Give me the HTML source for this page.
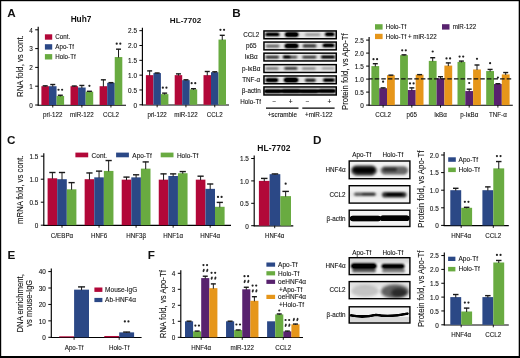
<!DOCTYPE html>
<html><head><meta charset="utf-8"><style>
html,body{margin:0;padding:0;background:#fff;}
body{width:520px;height:358px;overflow:hidden;}
svg{display:block;font-family:"Liberation Sans", sans-serif;will-change:transform;}
</style></head><body>
<svg width="520" height="358" viewBox="0 0 520 358">
<defs><filter id="bl0_6" x="-20%" y="-50%" width="140%" height="200%"><feGaussianBlur stdDeviation="0.6"/><feComponentTransfer><feFuncA type="linear" slope="1.35"/></feComponentTransfer></filter><filter id="bl0_8" x="-20%" y="-50%" width="140%" height="200%"><feGaussianBlur stdDeviation="0.8"/><feComponentTransfer><feFuncA type="linear" slope="1.35"/></feComponentTransfer></filter><filter id="bl0_9" x="-20%" y="-50%" width="140%" height="200%"><feGaussianBlur stdDeviation="0.9"/><feComponentTransfer><feFuncA type="linear" slope="1.35"/></feComponentTransfer></filter><filter id="bl1_2" x="-20%" y="-50%" width="140%" height="200%"><feGaussianBlur stdDeviation="1.2"/><feComponentTransfer><feFuncA type="linear" slope="1.35"/></feComponentTransfer></filter><filter id="bl1_6" x="-20%" y="-50%" width="140%" height="200%"><feGaussianBlur stdDeviation="1.6"/><feComponentTransfer><feFuncA type="linear" slope="1.35"/></feComponentTransfer></filter></defs>
<rect x="0" y="0" width="520" height="358" fill="#fff"/>
<text x="7.20" y="16.80" font-size="11.70" text-anchor="start" font-weight="bold" fill="#111">A</text>
<text x="81.00" y="22.00" font-size="8.30" text-anchor="middle" font-weight="bold" fill="#111">Huh7</text>
<text x="23.30" y="66.10" font-size="8.90" text-anchor="middle" font-weight="normal" fill="#111" transform="rotate(-90 23.30 66.10)" textLength="61.6" lengthAdjust="spacingAndGlyphs" stroke="#111" stroke-width="0.1">RNA fold, vs cont.</text>
<line x1="38.20" y1="26.80" x2="38.20" y2="105.50" stroke="#000" stroke-width="1.15"/>
<line x1="35.20" y1="105.00" x2="38.20" y2="105.00" stroke="#000" stroke-width="1.0"/>
<text x="32.80" y="107.80" font-size="6.40" text-anchor="end" font-weight="normal" fill="#111" stroke="#111" stroke-width="0.1">0</text>
<line x1="35.20" y1="86.20" x2="38.20" y2="86.20" stroke="#000" stroke-width="1.0"/>
<text x="32.80" y="89.00" font-size="6.40" text-anchor="end" font-weight="normal" fill="#111" stroke="#111" stroke-width="0.1">1</text>
<line x1="35.20" y1="67.40" x2="38.20" y2="67.40" stroke="#000" stroke-width="1.0"/>
<text x="32.80" y="70.20" font-size="6.40" text-anchor="end" font-weight="normal" fill="#111" stroke="#111" stroke-width="0.1">2</text>
<line x1="35.20" y1="48.60" x2="38.20" y2="48.60" stroke="#000" stroke-width="1.0"/>
<text x="32.80" y="51.40" font-size="6.40" text-anchor="end" font-weight="normal" fill="#111" stroke="#111" stroke-width="0.1">3</text>
<line x1="35.20" y1="29.80" x2="38.20" y2="29.80" stroke="#000" stroke-width="1.0"/>
<text x="32.80" y="32.60" font-size="6.40" text-anchor="end" font-weight="normal" fill="#111" stroke="#111" stroke-width="0.1">4</text>
<line x1="37.70" y1="105.20" x2="126.00" y2="105.20" stroke="#000" stroke-width="1.1"/>
<rect x="41.40" y="86.20" width="7.57" height="18.80" fill="#b20839"/>
<line x1="45.19" y1="85.64" x2="45.19" y2="86.70" stroke="#1a1a1a" stroke-width="1.0"/>
<line x1="42.69" y1="85.84" x2="47.69" y2="85.84" stroke="#1a1a1a" stroke-width="1.4"/>
<rect x="48.97" y="86.20" width="7.57" height="18.80" fill="#2b4886"/>
<line x1="52.75" y1="84.32" x2="52.75" y2="86.70" stroke="#1a1a1a" stroke-width="1.0"/>
<line x1="50.25" y1="84.52" x2="55.25" y2="84.52" stroke="#1a1a1a" stroke-width="1.4"/>
<rect x="56.54" y="95.98" width="7.57" height="9.02" fill="#69ab41"/>
<line x1="60.33" y1="95.04" x2="60.33" y2="96.48" stroke="#1a1a1a" stroke-width="1.0"/>
<line x1="57.83" y1="95.24" x2="62.83" y2="95.24" stroke="#1a1a1a" stroke-width="1.4"/>
<circle cx="58.53" cy="89.74" r="1.1" fill="#222"/>
<circle cx="62.12" cy="89.74" r="1.1" fill="#222"/>
<line x1="52.75" y1="105.00" x2="52.75" y2="107.50" stroke="#000" stroke-width="0.9"/>
<text x="52.75" y="117.50" font-size="6.70" text-anchor="middle" font-weight="normal" fill="#111" transform="translate(52.75 117.50) scale(0.93 1) translate(-52.75 -117.50)" stroke="#111" stroke-width="0.1">pri-122</text>
<rect x="70.50" y="86.20" width="7.57" height="18.80" fill="#b20839"/>
<line x1="74.28" y1="85.82" x2="74.28" y2="86.70" stroke="#1a1a1a" stroke-width="1.0"/>
<line x1="71.78" y1="86.02" x2="76.78" y2="86.02" stroke="#1a1a1a" stroke-width="1.4"/>
<rect x="78.07" y="87.52" width="7.57" height="17.48" fill="#2b4886"/>
<line x1="81.85" y1="85.26" x2="81.85" y2="88.02" stroke="#1a1a1a" stroke-width="1.0"/>
<line x1="79.35" y1="85.46" x2="84.35" y2="85.46" stroke="#1a1a1a" stroke-width="1.4"/>
<rect x="85.64" y="91.65" width="7.57" height="13.35" fill="#69ab41"/>
<line x1="89.42" y1="91.09" x2="89.42" y2="92.15" stroke="#1a1a1a" stroke-width="1.0"/>
<line x1="86.92" y1="91.29" x2="91.92" y2="91.29" stroke="#1a1a1a" stroke-width="1.4"/>
<circle cx="89.42" cy="85.79" r="1.1" fill="#222"/>
<line x1="81.86" y1="105.00" x2="81.86" y2="107.50" stroke="#000" stroke-width="0.9"/>
<text x="81.86" y="117.50" font-size="6.70" text-anchor="middle" font-weight="normal" fill="#111" transform="translate(81.86 117.50) scale(0.93 1) translate(-81.86 -117.50)" stroke="#111" stroke-width="0.1">miR-122</text>
<rect x="99.60" y="86.20" width="7.57" height="18.80" fill="#b20839"/>
<line x1="103.38" y1="79.62" x2="103.38" y2="86.70" stroke="#1a1a1a" stroke-width="1.0"/>
<line x1="100.88" y1="79.82" x2="105.88" y2="79.82" stroke="#1a1a1a" stroke-width="1.4"/>
<rect x="107.17" y="82.82" width="7.57" height="22.18" fill="#2b4886"/>
<line x1="110.95" y1="82.44" x2="110.95" y2="83.32" stroke="#1a1a1a" stroke-width="1.0"/>
<line x1="108.45" y1="82.64" x2="113.45" y2="82.64" stroke="#1a1a1a" stroke-width="1.4"/>
<rect x="114.74" y="57.06" width="7.57" height="47.94" fill="#69ab41"/>
<line x1="118.52" y1="48.98" x2="118.52" y2="57.56" stroke="#1a1a1a" stroke-width="1.0"/>
<line x1="116.02" y1="49.18" x2="121.02" y2="49.18" stroke="#1a1a1a" stroke-width="1.4"/>
<circle cx="116.72" cy="43.68" r="1.1" fill="#222"/>
<circle cx="120.32" cy="43.68" r="1.1" fill="#222"/>
<line x1="110.95" y1="105.00" x2="110.95" y2="107.50" stroke="#000" stroke-width="0.9"/>
<text x="110.95" y="117.50" font-size="6.70" text-anchor="middle" font-weight="normal" fill="#111" transform="translate(110.95 117.50) scale(0.93 1) translate(-110.95 -117.50)" stroke="#111" stroke-width="0.1">CCL2</text>
<rect x="44.90" y="34.30" width="7.30" height="5.40" fill="#b20839"/>
<text x="55.30" y="38.90" font-size="6.70" text-anchor="start" font-weight="normal" fill="#111" transform="translate(55.30 38.90) scale(0.93 1) translate(-55.30 -38.90)" stroke="#111" stroke-width="0.1">Cont.</text>
<rect x="44.90" y="44.20" width="7.30" height="5.40" fill="#2b4886"/>
<text x="55.30" y="48.80" font-size="6.70" text-anchor="start" font-weight="normal" fill="#111" transform="translate(55.30 48.80) scale(0.93 1) translate(-55.30 -48.80)" stroke="#111" stroke-width="0.1">Apo-Tf</text>
<rect x="44.90" y="54.10" width="7.30" height="5.40" fill="#69ab41"/>
<text x="55.30" y="58.70" font-size="6.70" text-anchor="start" font-weight="normal" fill="#111" transform="translate(55.30 58.70) scale(0.93 1) translate(-55.30 -58.70)" stroke="#111" stroke-width="0.1">Holo-Tf</text>
<text x="185.60" y="22.70" font-size="8.10" text-anchor="middle" font-weight="bold" fill="#111">HL-7702</text>
<line x1="142.40" y1="27.67" x2="142.40" y2="105.30" stroke="#000" stroke-width="1.15"/>
<line x1="139.40" y1="104.80" x2="142.40" y2="104.80" stroke="#000" stroke-width="1.0"/>
<text x="137.00" y="107.60" font-size="6.40" text-anchor="end" font-weight="normal" fill="#111" stroke="#111" stroke-width="0.1">0</text>
<line x1="139.40" y1="89.97" x2="142.40" y2="89.97" stroke="#000" stroke-width="1.0"/>
<text x="137.00" y="92.78" font-size="6.40" text-anchor="end" font-weight="normal" fill="#111" stroke="#111" stroke-width="0.1">0.5</text>
<line x1="139.40" y1="75.15" x2="142.40" y2="75.15" stroke="#000" stroke-width="1.0"/>
<text x="137.00" y="77.95" font-size="6.40" text-anchor="end" font-weight="normal" fill="#111" stroke="#111" stroke-width="0.1">1.0</text>
<line x1="139.40" y1="60.33" x2="142.40" y2="60.33" stroke="#000" stroke-width="1.0"/>
<text x="137.00" y="63.13" font-size="6.40" text-anchor="end" font-weight="normal" fill="#111" stroke="#111" stroke-width="0.1">1.5</text>
<line x1="139.40" y1="45.50" x2="142.40" y2="45.50" stroke="#000" stroke-width="1.0"/>
<text x="137.00" y="48.30" font-size="6.40" text-anchor="end" font-weight="normal" fill="#111" stroke="#111" stroke-width="0.1">2.0</text>
<line x1="139.40" y1="30.67" x2="142.40" y2="30.67" stroke="#000" stroke-width="1.0"/>
<text x="137.00" y="33.48" font-size="6.40" text-anchor="end" font-weight="normal" fill="#111" stroke="#111" stroke-width="0.1">2.5</text>
<line x1="141.90" y1="105.00" x2="229.00" y2="105.00" stroke="#000" stroke-width="1.1"/>
<rect x="145.90" y="75.15" width="7.50" height="29.65" fill="#b20839"/>
<line x1="149.65" y1="70.70" x2="149.65" y2="75.65" stroke="#1a1a1a" stroke-width="1.0"/>
<line x1="147.15" y1="70.90" x2="152.15" y2="70.90" stroke="#1a1a1a" stroke-width="1.4"/>
<rect x="153.40" y="73.07" width="7.50" height="31.73" fill="#2b4886"/>
<line x1="157.15" y1="72.78" x2="157.15" y2="73.57" stroke="#1a1a1a" stroke-width="1.0"/>
<line x1="154.65" y1="72.98" x2="159.65" y2="72.98" stroke="#1a1a1a" stroke-width="1.4"/>
<rect x="160.90" y="94.13" width="7.50" height="10.67" fill="#69ab41"/>
<line x1="164.65" y1="92.94" x2="164.65" y2="94.63" stroke="#1a1a1a" stroke-width="1.0"/>
<line x1="162.15" y1="93.14" x2="167.15" y2="93.14" stroke="#1a1a1a" stroke-width="1.4"/>
<circle cx="162.85" cy="87.64" r="1.1" fill="#222"/>
<circle cx="166.45" cy="87.64" r="1.1" fill="#222"/>
<line x1="157.15" y1="104.80" x2="157.15" y2="107.30" stroke="#000" stroke-width="0.9"/>
<text x="157.15" y="117.50" font-size="6.70" text-anchor="middle" font-weight="normal" fill="#111" transform="translate(157.15 117.50) scale(0.93 1) translate(-157.15 -117.50)" stroke="#111" stroke-width="0.1">pri-122</text>
<rect x="174.70" y="75.15" width="7.50" height="29.65" fill="#b20839"/>
<line x1="178.45" y1="73.67" x2="178.45" y2="75.65" stroke="#1a1a1a" stroke-width="1.0"/>
<line x1="175.95" y1="73.87" x2="180.95" y2="73.87" stroke="#1a1a1a" stroke-width="1.4"/>
<rect x="182.20" y="80.19" width="7.50" height="24.61" fill="#2b4886"/>
<line x1="185.95" y1="79.60" x2="185.95" y2="80.69" stroke="#1a1a1a" stroke-width="1.0"/>
<line x1="183.45" y1="79.80" x2="188.45" y2="79.80" stroke="#1a1a1a" stroke-width="1.4"/>
<rect x="189.70" y="89.38" width="7.50" height="15.42" fill="#69ab41"/>
<line x1="193.45" y1="88.49" x2="193.45" y2="89.88" stroke="#1a1a1a" stroke-width="1.0"/>
<line x1="190.95" y1="88.69" x2="195.95" y2="88.69" stroke="#1a1a1a" stroke-width="1.4"/>
<circle cx="191.65" cy="83.19" r="1.1" fill="#222"/>
<circle cx="195.25" cy="83.19" r="1.1" fill="#222"/>
<line x1="185.95" y1="104.80" x2="185.95" y2="107.30" stroke="#000" stroke-width="0.9"/>
<text x="185.95" y="117.50" font-size="6.70" text-anchor="middle" font-weight="normal" fill="#111" transform="translate(185.95 117.50) scale(0.93 1) translate(-185.95 -117.50)" stroke="#111" stroke-width="0.1">miR-122</text>
<rect x="203.50" y="75.15" width="7.50" height="29.65" fill="#b20839"/>
<line x1="207.25" y1="71.30" x2="207.25" y2="75.65" stroke="#1a1a1a" stroke-width="1.0"/>
<line x1="204.75" y1="71.50" x2="209.75" y2="71.50" stroke="#1a1a1a" stroke-width="1.4"/>
<rect x="211.00" y="72.19" width="7.50" height="32.61" fill="#2b4886"/>
<line x1="214.75" y1="71.59" x2="214.75" y2="72.69" stroke="#1a1a1a" stroke-width="1.0"/>
<line x1="212.25" y1="71.79" x2="217.25" y2="71.79" stroke="#1a1a1a" stroke-width="1.4"/>
<rect x="218.50" y="39.57" width="7.50" height="65.23" fill="#69ab41"/>
<line x1="222.25" y1="35.12" x2="222.25" y2="40.07" stroke="#1a1a1a" stroke-width="1.0"/>
<line x1="219.75" y1="35.32" x2="224.75" y2="35.32" stroke="#1a1a1a" stroke-width="1.4"/>
<circle cx="220.45" cy="29.82" r="1.1" fill="#222"/>
<circle cx="224.05" cy="29.82" r="1.1" fill="#222"/>
<line x1="214.75" y1="104.80" x2="214.75" y2="107.30" stroke="#000" stroke-width="0.9"/>
<text x="214.75" y="117.50" font-size="6.70" text-anchor="middle" font-weight="normal" fill="#111" transform="translate(214.75 117.50) scale(0.93 1) translate(-214.75 -117.50)" stroke="#111" stroke-width="0.1">CCL2</text>
<text x="232.30" y="16.80" font-size="11.70" text-anchor="start" font-weight="bold" fill="#111">B</text>
<clipPath id="c1"><rect x="263.20" y="30.20" width="73.80" height="9.30"/></clipPath>
<g clip-path="url(#c1)"><rect x="263.20" y="30.20" width="73.80" height="9.30" fill="#f3f3f3"/>
<g filter="url(#bl0_8)">
<rect x="263.20" y="32.35" width="73.80" height="5" fill="#000" fill-opacity="0.06"/>
<rect x="265.30" y="32.71" width="14.20" height="3.38" rx="1.69" ry="1.69" fill="#000" fill-opacity="0.9"/>
<rect x="285.00" y="32.29" width="13.40" height="4.42" rx="2.21" ry="2.21" fill="#000" fill-opacity="1.0"/>
<rect x="305.00" y="33.30" width="15.30" height="2.60" rx="1.30" ry="1.30" fill="#000" fill-opacity="0.25"/>
<rect x="325.00" y="32.45" width="9.50" height="3.51" rx="1.76" ry="1.76" fill="#000" fill-opacity="0.95"/>
</g></g>
<rect x="263.95" y="30.95" width="72.30" height="7.80" fill="none" stroke="#000" stroke-width="1.5"/>
<text x="251.20" y="37.10" font-size="6.80" text-anchor="middle" font-weight="normal" fill="#111" transform="translate(251.20 37.10) scale(0.93 1) translate(-251.20 -37.10)" stroke="#111" stroke-width="0.1">CCL2</text>
<clipPath id="c2"><rect x="263.20" y="41.30" width="73.80" height="9.30"/></clipPath>
<g clip-path="url(#c2)"><rect x="263.20" y="41.30" width="73.80" height="9.30" fill="#f3f3f3"/>
<g filter="url(#bl0_8)">
<rect x="263.20" y="43.45" width="73.80" height="5" fill="#000" fill-opacity="0.06"/>
<rect x="265.80" y="44.67" width="13.70" height="2.86" rx="1.43" ry="1.43" fill="#000" fill-opacity="0.45"/>
<rect x="284.70" y="43.69" width="13.70" height="4.42" rx="2.21" ry="2.21" fill="#000" fill-opacity="1.0"/>
<rect x="302.60" y="44.27" width="13.90" height="3.25" rx="1.62" ry="1.62" fill="#000" fill-opacity="0.6"/>
<rect x="322.60" y="43.71" width="11.90" height="3.38" rx="1.69" ry="1.69" fill="#000" fill-opacity="0.95"/>
</g></g>
<rect x="263.95" y="42.05" width="72.30" height="7.80" fill="none" stroke="#000" stroke-width="1.5"/>
<text x="251.20" y="48.20" font-size="6.80" text-anchor="middle" font-weight="normal" fill="#111" transform="translate(251.20 48.20) scale(0.93 1) translate(-251.20 -48.20)" stroke="#111" stroke-width="0.1">p65</text>
<clipPath id="c3"><rect x="263.20" y="52.40" width="73.80" height="9.30"/></clipPath>
<g clip-path="url(#c3)"><rect x="263.20" y="52.40" width="73.80" height="9.30" fill="#f3f3f3"/>
<g filter="url(#bl0_8)">
<rect x="263.20" y="54.55" width="73.80" height="5" fill="#000" fill-opacity="0.06"/>
<rect x="265.50" y="55.93" width="13.50" height="2.34" rx="1.17" ry="1.17" fill="#000" fill-opacity="0.75"/>
<rect x="282.80" y="55.70" width="7.70" height="2.60" rx="1.30" ry="1.30" fill="#000" fill-opacity="1.0"/>
<rect x="288.00" y="56.00" width="9.40" height="2.21" rx="1.10" ry="1.10" fill="#000" fill-opacity="0.6"/>
<rect x="302.20" y="56.00" width="14.30" height="2.21" rx="1.10" ry="1.10" fill="#000" fill-opacity="0.7"/>
<rect x="321.00" y="55.70" width="14.00" height="2.60" rx="1.30" ry="1.30" fill="#000" fill-opacity="0.95"/>
</g></g>
<rect x="263.95" y="53.15" width="72.30" height="7.80" fill="none" stroke="#000" stroke-width="1.5"/>
<text x="251.20" y="59.30" font-size="6.80" text-anchor="middle" font-weight="normal" fill="#111" transform="translate(251.20 59.30) scale(0.93 1) translate(-251.20 -59.30)" stroke="#111" stroke-width="0.1">I&#954;B&#945;</text>
<clipPath id="c4"><rect x="263.20" y="63.90" width="73.80" height="9.30"/></clipPath>
<g clip-path="url(#c4)"><rect x="263.20" y="63.90" width="73.80" height="9.30" fill="#f3f3f3"/>
<g filter="url(#bl0_8)">
<rect x="263.20" y="66.05" width="73.80" height="5" fill="#000" fill-opacity="0.06"/>
<rect x="265.50" y="67.66" width="13.00" height="1.69" rx="0.85" ry="0.85" fill="#000" fill-opacity="0.6"/>
<rect x="284.30" y="67.49" width="13.10" height="1.82" rx="0.91" ry="0.91" fill="#000" fill-opacity="0.9"/>
<rect x="302.00" y="67.78" width="13.70" height="1.43" rx="0.72" ry="0.72" fill="#000" fill-opacity="0.5"/>
<rect x="321.80" y="67.69" width="12.40" height="1.43" rx="0.72" ry="0.72" fill="#000" fill-opacity="0.4"/>
</g></g>
<rect x="263.95" y="64.65" width="72.30" height="7.80" fill="none" stroke="#000" stroke-width="1.5"/>
<text x="251.20" y="70.80" font-size="6.80" text-anchor="middle" font-weight="normal" fill="#111" transform="translate(251.20 70.80) scale(0.93 1) translate(-251.20 -70.80)" stroke="#111" stroke-width="0.1">p-I&#954;B&#945;</text>
<clipPath id="c5"><rect x="263.20" y="75.20" width="73.80" height="9.30"/></clipPath>
<g clip-path="url(#c5)"><rect x="263.20" y="75.20" width="73.80" height="9.30" fill="#f3f3f3"/>
<g filter="url(#bl0_8)">
<rect x="263.20" y="77.35" width="73.80" height="5" fill="#000" fill-opacity="0.06"/>
<rect x="265.50" y="78.15" width="12.70" height="3.90" rx="1.95" ry="1.95" fill="#000" fill-opacity="0.95"/>
<rect x="283.90" y="77.72" width="14.30" height="4.55" rx="2.27" ry="2.27" fill="#000" fill-opacity="1.0"/>
<rect x="305.00" y="78.70" width="10.70" height="2.99" rx="1.49" ry="1.49" fill="#000" fill-opacity="0.75"/>
<rect x="323.00" y="78.38" width="11.90" height="3.25" rx="1.62" ry="1.62" fill="#000" fill-opacity="0.9"/>
</g></g>
<rect x="263.95" y="75.95" width="72.30" height="7.80" fill="none" stroke="#000" stroke-width="1.5"/>
<text x="251.20" y="82.10" font-size="6.80" text-anchor="middle" font-weight="normal" fill="#111" transform="translate(251.20 82.10) scale(0.93 1) translate(-251.20 -82.10)" stroke="#111" stroke-width="0.1">TNF-&#945;</text>
<clipPath id="c6"><rect x="263.20" y="86.20" width="73.80" height="9.50"/></clipPath>
<g clip-path="url(#c6)"><rect x="263.20" y="86.20" width="73.80" height="9.50" fill="#f3f3f3"/>
<g filter="url(#bl0_8)">
<rect x="264.00" y="89.45" width="18.00" height="3.51" rx="1.76" ry="1.76" fill="#000" fill-opacity="1.0"/>
<rect x="281.00" y="89.21" width="20.00" height="3.77" rx="1.89" ry="1.89" fill="#000" fill-opacity="1.0"/>
<rect x="299.50" y="89.45" width="19.50" height="3.51" rx="1.76" ry="1.76" fill="#000" fill-opacity="1.0"/>
<rect x="318.00" y="89.34" width="18.00" height="3.51" rx="1.76" ry="1.76" fill="#000" fill-opacity="1.0"/>
</g></g>
<rect x="263.95" y="86.95" width="72.30" height="8.00" fill="none" stroke="#000" stroke-width="1.5"/>
<text x="251.20" y="93.10" font-size="6.80" text-anchor="middle" font-weight="normal" fill="#111" transform="translate(251.20 93.10) scale(0.93 1) translate(-251.20 -93.10)" stroke="#111" stroke-width="0.1">&#946;-actin</text>
<text x="261.00" y="104.00" font-size="6.80" text-anchor="end" font-weight="normal" fill="#111" transform="translate(261.00 104.00) scale(0.93 1) translate(-261.00 -104.00)" stroke="#111" stroke-width="0.1">Holo-Tf</text>
<text x="274.40" y="104.00" font-size="6.80" text-anchor="middle" font-weight="normal" fill="#111" transform="translate(274.40 104.00) scale(0.93 1) translate(-274.40 -104.00)" stroke="#111" stroke-width="0.1">&#8722;</text>
<text x="290.60" y="104.00" font-size="6.60" text-anchor="middle" font-weight="normal" fill="#111" stroke="#111" stroke-width="0.1">+</text>
<text x="307.60" y="104.00" font-size="6.80" text-anchor="middle" font-weight="normal" fill="#111" transform="translate(307.60 104.00) scale(0.93 1) translate(-307.60 -104.00)" stroke="#111" stroke-width="0.1">&#8722;</text>
<text x="329.40" y="104.00" font-size="6.60" text-anchor="middle" font-weight="normal" fill="#111" stroke="#111" stroke-width="0.1">+</text>
<line x1="266.00" y1="108.20" x2="298.50" y2="108.20" stroke="#000" stroke-width="1.3"/>
<line x1="302.30" y1="108.20" x2="334.60" y2="108.20" stroke="#000" stroke-width="1.3"/>
<text x="282.30" y="117.20" font-size="6.80" text-anchor="middle" font-weight="normal" fill="#111" transform="translate(282.30 117.20) scale(0.93 1) translate(-282.30 -117.20)" stroke="#111" stroke-width="0.1">+scramble</text>
<text x="318.80" y="117.20" font-size="6.80" text-anchor="middle" font-weight="normal" fill="#111" transform="translate(318.80 117.20) scale(0.93 1) translate(-318.80 -117.20)" stroke="#111" stroke-width="0.1">+miR-122</text>
<text x="347.90" y="71.65" font-size="8.80" text-anchor="middle" font-weight="normal" fill="#111" transform="rotate(-90 347.90 71.65)" textLength="76.6" lengthAdjust="spacingAndGlyphs" stroke="#111" stroke-width="0.1">Protein fold, vs Apo-Tf</text>
<line x1="369.10" y1="37.10" x2="369.10" y2="105.60" stroke="#000" stroke-width="1.15"/>
<line x1="366.10" y1="105.10" x2="369.10" y2="105.10" stroke="#000" stroke-width="1.0"/>
<text x="363.70" y="107.90" font-size="6.40" text-anchor="end" font-weight="normal" fill="#111" stroke="#111" stroke-width="0.1">0</text>
<line x1="366.10" y1="92.10" x2="369.10" y2="92.10" stroke="#000" stroke-width="1.0"/>
<text x="363.70" y="94.90" font-size="6.40" text-anchor="end" font-weight="normal" fill="#111" stroke="#111" stroke-width="0.1">0.5</text>
<line x1="366.10" y1="79.10" x2="369.10" y2="79.10" stroke="#000" stroke-width="1.0"/>
<text x="363.70" y="81.90" font-size="6.40" text-anchor="end" font-weight="normal" fill="#111" stroke="#111" stroke-width="0.1">1.0</text>
<line x1="366.10" y1="66.10" x2="369.10" y2="66.10" stroke="#000" stroke-width="1.0"/>
<text x="363.70" y="68.90" font-size="6.40" text-anchor="end" font-weight="normal" fill="#111" stroke="#111" stroke-width="0.1">1.5</text>
<line x1="366.10" y1="53.10" x2="369.10" y2="53.10" stroke="#000" stroke-width="1.0"/>
<text x="363.70" y="55.90" font-size="6.40" text-anchor="end" font-weight="normal" fill="#111" stroke="#111" stroke-width="0.1">2.0</text>
<line x1="366.10" y1="40.10" x2="369.10" y2="40.10" stroke="#000" stroke-width="1.0"/>
<text x="363.70" y="42.90" font-size="6.40" text-anchor="end" font-weight="normal" fill="#111" stroke="#111" stroke-width="0.1">2.5</text>
<line x1="368.60" y1="105.30" x2="512.80" y2="105.30" stroke="#000" stroke-width="1.1"/>
<rect x="371.40" y="66.10" width="7.80" height="39.00" fill="#69ab41"/>
<line x1="375.30" y1="63.50" x2="375.30" y2="66.60" stroke="#1a1a1a" stroke-width="1.0"/>
<line x1="372.80" y1="63.70" x2="377.80" y2="63.70" stroke="#1a1a1a" stroke-width="1.4"/>
<circle cx="373.50" cy="59.20" r="1.1" fill="#222"/>
<circle cx="377.10" cy="59.20" r="1.1" fill="#222"/>
<rect x="379.20" y="88.20" width="7.80" height="16.90" fill="#58226e"/>
<line x1="383.10" y1="87.68" x2="383.10" y2="88.70" stroke="#1a1a1a" stroke-width="1.0"/>
<line x1="380.60" y1="87.88" x2="385.60" y2="87.88" stroke="#1a1a1a" stroke-width="1.4"/>
<circle cx="383.10" cy="81.68" r="1.1" fill="#222"/>
<rect x="387.00" y="75.20" width="7.80" height="29.90" fill="#e6961a"/>
<line x1="390.90" y1="74.94" x2="390.90" y2="75.70" stroke="#1a1a1a" stroke-width="1.0"/>
<line x1="388.40" y1="75.14" x2="393.40" y2="75.14" stroke="#1a1a1a" stroke-width="1.4"/>
<line x1="383.10" y1="105.10" x2="383.10" y2="107.60" stroke="#000" stroke-width="0.9"/>
<text x="383.10" y="117.50" font-size="6.70" text-anchor="middle" font-weight="normal" fill="#111" transform="translate(383.10 117.50) scale(0.93 1) translate(-383.10 -117.50)" stroke="#111" stroke-width="0.1">CCL2</text>
<rect x="400.10" y="55.18" width="7.80" height="49.92" fill="#69ab41"/>
<line x1="404.00" y1="54.66" x2="404.00" y2="55.68" stroke="#1a1a1a" stroke-width="1.0"/>
<line x1="401.50" y1="54.86" x2="406.50" y2="54.86" stroke="#1a1a1a" stroke-width="1.4"/>
<circle cx="402.20" cy="50.36" r="1.1" fill="#222"/>
<circle cx="405.80" cy="50.36" r="1.1" fill="#222"/>
<rect x="407.90" y="90.02" width="7.80" height="15.08" fill="#58226e"/>
<line x1="411.80" y1="87.68" x2="411.80" y2="90.52" stroke="#1a1a1a" stroke-width="1.0"/>
<line x1="409.30" y1="87.88" x2="414.30" y2="87.88" stroke="#1a1a1a" stroke-width="1.4"/>
<circle cx="410.00" cy="83.38" r="1.1" fill="#222"/>
<circle cx="413.60" cy="83.38" r="1.1" fill="#222"/>
<rect x="415.70" y="74.68" width="7.80" height="30.42" fill="#e6961a"/>
<line x1="419.60" y1="74.42" x2="419.60" y2="75.18" stroke="#1a1a1a" stroke-width="1.0"/>
<line x1="417.10" y1="74.62" x2="422.10" y2="74.62" stroke="#1a1a1a" stroke-width="1.4"/>
<line x1="411.80" y1="105.10" x2="411.80" y2="107.60" stroke="#000" stroke-width="0.9"/>
<text x="411.80" y="117.50" font-size="6.70" text-anchor="middle" font-weight="normal" fill="#111" transform="translate(411.80 117.50) scale(0.93 1) translate(-411.80 -117.50)" stroke="#111" stroke-width="0.1">p65</text>
<rect x="428.80" y="60.90" width="7.80" height="44.20" fill="#69ab41"/>
<line x1="432.70" y1="57.52" x2="432.70" y2="61.40" stroke="#1a1a1a" stroke-width="1.0"/>
<line x1="430.20" y1="57.72" x2="435.20" y2="57.72" stroke="#1a1a1a" stroke-width="1.4"/>
<circle cx="432.70" cy="51.52" r="1.1" fill="#222"/>
<rect x="436.60" y="78.32" width="7.80" height="26.78" fill="#58226e"/>
<line x1="440.50" y1="76.50" x2="440.50" y2="78.82" stroke="#1a1a1a" stroke-width="1.0"/>
<line x1="438.00" y1="76.70" x2="443.00" y2="76.70" stroke="#1a1a1a" stroke-width="1.4"/>
<rect x="444.40" y="65.58" width="7.80" height="39.52" fill="#e6961a"/>
<line x1="448.30" y1="62.72" x2="448.30" y2="66.08" stroke="#1a1a1a" stroke-width="1.0"/>
<line x1="445.80" y1="62.92" x2="450.80" y2="62.92" stroke="#1a1a1a" stroke-width="1.4"/>
<circle cx="446.50" cy="58.42" r="1.1" fill="#222"/>
<circle cx="450.10" cy="58.42" r="1.1" fill="#222"/>
<line x1="440.50" y1="105.10" x2="440.50" y2="107.60" stroke="#000" stroke-width="0.9"/>
<text x="440.50" y="117.50" font-size="6.70" text-anchor="middle" font-weight="normal" fill="#111" transform="translate(440.50 117.50) scale(0.93 1) translate(-440.50 -117.50)" stroke="#111" stroke-width="0.1">I&#954;B&#945;</text>
<rect x="457.50" y="61.94" width="7.80" height="43.16" fill="#69ab41"/>
<line x1="461.40" y1="60.90" x2="461.40" y2="62.44" stroke="#1a1a1a" stroke-width="1.0"/>
<line x1="458.90" y1="61.10" x2="463.90" y2="61.10" stroke="#1a1a1a" stroke-width="1.4"/>
<circle cx="459.60" cy="56.60" r="1.1" fill="#222"/>
<circle cx="463.20" cy="56.60" r="1.1" fill="#222"/>
<rect x="465.30" y="91.06" width="7.80" height="14.04" fill="#58226e"/>
<line x1="469.20" y1="88.98" x2="469.20" y2="91.56" stroke="#1a1a1a" stroke-width="1.0"/>
<line x1="466.70" y1="89.18" x2="471.70" y2="89.18" stroke="#1a1a1a" stroke-width="1.4"/>
<circle cx="469.20" cy="82.98" r="1.1" fill="#222"/>
<rect x="473.10" y="69.48" width="7.80" height="35.62" fill="#e6961a"/>
<line x1="477.00" y1="64.80" x2="477.00" y2="69.98" stroke="#1a1a1a" stroke-width="1.0"/>
<line x1="474.50" y1="65.00" x2="479.50" y2="65.00" stroke="#1a1a1a" stroke-width="1.4"/>
<circle cx="477.00" cy="58.80" r="1.1" fill="#222"/>
<line x1="469.20" y1="105.10" x2="469.20" y2="107.60" stroke="#000" stroke-width="0.9"/>
<text x="469.20" y="117.50" font-size="6.70" text-anchor="middle" font-weight="normal" fill="#111" transform="translate(469.20 117.50) scale(0.93 1) translate(-469.20 -117.50)" stroke="#111" stroke-width="0.1">p-I&#954;B&#945;</text>
<rect x="486.20" y="71.04" width="7.80" height="34.06" fill="#69ab41"/>
<line x1="490.10" y1="69.22" x2="490.10" y2="71.54" stroke="#1a1a1a" stroke-width="1.0"/>
<line x1="487.60" y1="69.42" x2="492.60" y2="69.42" stroke="#1a1a1a" stroke-width="1.4"/>
<circle cx="490.10" cy="63.22" r="1.1" fill="#222"/>
<rect x="494.00" y="84.04" width="7.80" height="21.06" fill="#58226e"/>
<line x1="497.90" y1="83.52" x2="497.90" y2="84.54" stroke="#1a1a1a" stroke-width="1.0"/>
<line x1="495.40" y1="83.72" x2="500.40" y2="83.72" stroke="#1a1a1a" stroke-width="1.4"/>
<circle cx="497.90" cy="77.52" r="1.1" fill="#222"/>
<rect x="501.80" y="74.42" width="7.80" height="30.68" fill="#e6961a"/>
<line x1="505.70" y1="72.34" x2="505.70" y2="74.92" stroke="#1a1a1a" stroke-width="1.0"/>
<line x1="503.20" y1="72.54" x2="508.20" y2="72.54" stroke="#1a1a1a" stroke-width="1.4"/>
<line x1="497.90" y1="105.10" x2="497.90" y2="107.60" stroke="#000" stroke-width="0.9"/>
<text x="497.90" y="117.50" font-size="6.70" text-anchor="middle" font-weight="normal" fill="#111" transform="translate(497.90 117.50) scale(0.93 1) translate(-497.90 -117.50)" stroke="#111" stroke-width="0.1">TNF-&#945;</text>
<line x1="369.10" y1="78.80" x2="513.20" y2="78.80" stroke="#111" stroke-width="1.3" stroke-dasharray="4.5 2.1" stroke-dashoffset="1.0"/>
<rect x="375.00" y="24.20" width="7.60" height="5.40" fill="#69ab41"/>
<text x="385.80" y="29.40" font-size="6.70" text-anchor="start" font-weight="normal" fill="#111" transform="translate(385.80 29.40) scale(0.93 1) translate(-385.80 -29.40)" stroke="#111" stroke-width="0.1">Holo-Tf</text>
<rect x="442.00" y="24.20" width="7.50" height="5.40" fill="#58226e"/>
<text x="452.70" y="29.40" font-size="6.70" text-anchor="start" font-weight="normal" fill="#111" transform="translate(452.70 29.40) scale(0.93 1) translate(-452.70 -29.40)" stroke="#111" stroke-width="0.1">miR-122</text>
<rect x="375.00" y="33.80" width="7.60" height="5.30" fill="#e6961a"/>
<text x="385.80" y="39.00" font-size="6.70" text-anchor="start" font-weight="normal" fill="#111" transform="translate(385.80 39.00) scale(0.93 1) translate(-385.80 -39.00)" stroke="#111" stroke-width="0.1">Holo-Tf + miR-122</text>
<text x="7.00" y="143.80" font-size="11.70" text-anchor="start" font-weight="bold" fill="#111">C</text>
<text x="23.20" y="189.75" font-size="9.20" text-anchor="middle" font-weight="normal" fill="#111" transform="rotate(-90 23.20 189.75)" textLength="68.5" lengthAdjust="spacingAndGlyphs" stroke="#111" stroke-width="0.1">mRNA fold, vs cont.</text>
<line x1="43.80" y1="153.20" x2="43.80" y2="225.70" stroke="#000" stroke-width="1.15"/>
<line x1="40.80" y1="225.20" x2="43.80" y2="225.20" stroke="#000" stroke-width="1.0"/>
<text x="38.40" y="228.00" font-size="6.40" text-anchor="end" font-weight="normal" fill="#111" stroke="#111" stroke-width="0.1">0</text>
<line x1="40.80" y1="202.20" x2="43.80" y2="202.20" stroke="#000" stroke-width="1.0"/>
<text x="38.40" y="205.00" font-size="6.40" text-anchor="end" font-weight="normal" fill="#111" stroke="#111" stroke-width="0.1">0.5</text>
<line x1="40.80" y1="179.20" x2="43.80" y2="179.20" stroke="#000" stroke-width="1.0"/>
<text x="38.40" y="182.00" font-size="6.40" text-anchor="end" font-weight="normal" fill="#111" stroke="#111" stroke-width="0.1">1.0</text>
<line x1="40.80" y1="156.20" x2="43.80" y2="156.20" stroke="#000" stroke-width="1.0"/>
<text x="38.40" y="159.00" font-size="6.40" text-anchor="end" font-weight="normal" fill="#111" stroke="#111" stroke-width="0.1">1.5</text>
<line x1="43.30" y1="225.40" x2="231.00" y2="225.40" stroke="#000" stroke-width="1.1"/>
<rect x="47.60" y="178.28" width="9.60" height="46.92" fill="#b20839"/>
<line x1="52.40" y1="172.30" x2="52.40" y2="178.78" stroke="#1a1a1a" stroke-width="1.0"/>
<line x1="49.30" y1="172.50" x2="55.50" y2="172.50" stroke="#1a1a1a" stroke-width="1.4"/>
<rect x="57.20" y="179.20" width="9.60" height="46.00" fill="#2b4886"/>
<line x1="62.00" y1="172.30" x2="62.00" y2="179.70" stroke="#1a1a1a" stroke-width="1.0"/>
<line x1="58.90" y1="172.50" x2="65.10" y2="172.50" stroke="#1a1a1a" stroke-width="1.4"/>
<rect x="66.80" y="189.32" width="9.60" height="35.88" fill="#69ab41"/>
<line x1="71.60" y1="182.42" x2="71.60" y2="189.82" stroke="#1a1a1a" stroke-width="1.0"/>
<line x1="68.50" y1="182.62" x2="74.70" y2="182.62" stroke="#1a1a1a" stroke-width="1.4"/>
<line x1="62.00" y1="225.20" x2="62.00" y2="227.70" stroke="#000" stroke-width="0.9"/>
<text x="62.00" y="238.00" font-size="6.70" text-anchor="middle" font-weight="normal" fill="#111" transform="translate(62.00 238.00) scale(0.93 1) translate(-62.00 -238.00)" stroke="#111" stroke-width="0.1">C/EBP&#945;</text>
<rect x="84.65" y="179.20" width="9.60" height="46.00" fill="#b20839"/>
<line x1="89.45" y1="172.76" x2="89.45" y2="179.70" stroke="#1a1a1a" stroke-width="1.0"/>
<line x1="86.35" y1="172.96" x2="92.55" y2="172.96" stroke="#1a1a1a" stroke-width="1.4"/>
<rect x="94.25" y="177.36" width="9.60" height="47.84" fill="#2b4886"/>
<line x1="99.05" y1="170.92" x2="99.05" y2="177.86" stroke="#1a1a1a" stroke-width="1.0"/>
<line x1="95.95" y1="171.12" x2="102.15" y2="171.12" stroke="#1a1a1a" stroke-width="1.4"/>
<rect x="103.85" y="170.92" width="9.60" height="54.28" fill="#69ab41"/>
<line x1="108.65" y1="160.34" x2="108.65" y2="171.42" stroke="#1a1a1a" stroke-width="1.0"/>
<line x1="105.55" y1="160.54" x2="111.75" y2="160.54" stroke="#1a1a1a" stroke-width="1.4"/>
<line x1="99.05" y1="225.20" x2="99.05" y2="227.70" stroke="#000" stroke-width="0.9"/>
<text x="99.05" y="238.00" font-size="6.70" text-anchor="middle" font-weight="normal" fill="#111" transform="translate(99.05 238.00) scale(0.93 1) translate(-99.05 -238.00)" stroke="#111" stroke-width="0.1">HNF6</text>
<rect x="121.70" y="179.66" width="9.60" height="45.54" fill="#b20839"/>
<line x1="126.50" y1="176.90" x2="126.50" y2="180.16" stroke="#1a1a1a" stroke-width="1.0"/>
<line x1="123.40" y1="177.10" x2="129.60" y2="177.10" stroke="#1a1a1a" stroke-width="1.4"/>
<rect x="131.30" y="177.36" width="9.60" height="47.84" fill="#2b4886"/>
<line x1="136.10" y1="174.60" x2="136.10" y2="177.86" stroke="#1a1a1a" stroke-width="1.0"/>
<line x1="133.00" y1="174.80" x2="139.20" y2="174.80" stroke="#1a1a1a" stroke-width="1.4"/>
<rect x="140.90" y="168.62" width="9.60" height="56.58" fill="#69ab41"/>
<line x1="145.70" y1="161.72" x2="145.70" y2="169.12" stroke="#1a1a1a" stroke-width="1.0"/>
<line x1="142.60" y1="161.92" x2="148.80" y2="161.92" stroke="#1a1a1a" stroke-width="1.4"/>
<line x1="136.10" y1="225.20" x2="136.10" y2="227.70" stroke="#000" stroke-width="0.9"/>
<text x="136.10" y="238.00" font-size="6.70" text-anchor="middle" font-weight="normal" fill="#111" transform="translate(136.10 238.00) scale(0.93 1) translate(-136.10 -238.00)" stroke="#111" stroke-width="0.1">HNF3&#946;</text>
<rect x="158.75" y="179.66" width="9.60" height="45.54" fill="#b20839"/>
<line x1="163.55" y1="173.68" x2="163.55" y2="180.16" stroke="#1a1a1a" stroke-width="1.0"/>
<line x1="160.45" y1="173.88" x2="166.65" y2="173.88" stroke="#1a1a1a" stroke-width="1.4"/>
<rect x="168.35" y="175.98" width="9.60" height="49.22" fill="#2b4886"/>
<line x1="173.15" y1="173.68" x2="173.15" y2="176.48" stroke="#1a1a1a" stroke-width="1.0"/>
<line x1="170.05" y1="173.88" x2="176.25" y2="173.88" stroke="#1a1a1a" stroke-width="1.4"/>
<rect x="177.95" y="173.22" width="9.60" height="51.98" fill="#69ab41"/>
<line x1="182.75" y1="171.38" x2="182.75" y2="173.72" stroke="#1a1a1a" stroke-width="1.0"/>
<line x1="179.65" y1="171.58" x2="185.85" y2="171.58" stroke="#1a1a1a" stroke-width="1.4"/>
<line x1="173.15" y1="225.20" x2="173.15" y2="227.70" stroke="#000" stroke-width="0.9"/>
<text x="173.15" y="238.00" font-size="6.70" text-anchor="middle" font-weight="normal" fill="#111" transform="translate(173.15 238.00) scale(0.93 1) translate(-173.15 -238.00)" stroke="#111" stroke-width="0.1">HNF1&#945;</text>
<rect x="195.80" y="179.66" width="9.60" height="45.54" fill="#b20839"/>
<line x1="200.60" y1="175.98" x2="200.60" y2="180.16" stroke="#1a1a1a" stroke-width="1.0"/>
<line x1="197.50" y1="176.18" x2="203.70" y2="176.18" stroke="#1a1a1a" stroke-width="1.4"/>
<rect x="205.40" y="188.86" width="9.60" height="36.34" fill="#2b4886"/>
<line x1="210.20" y1="183.80" x2="210.20" y2="189.36" stroke="#1a1a1a" stroke-width="1.0"/>
<line x1="207.10" y1="184.00" x2="213.30" y2="184.00" stroke="#1a1a1a" stroke-width="1.4"/>
<rect x="215.00" y="206.80" width="9.60" height="18.40" fill="#69ab41"/>
<line x1="219.80" y1="202.20" x2="219.80" y2="207.30" stroke="#1a1a1a" stroke-width="1.0"/>
<line x1="216.70" y1="202.40" x2="222.90" y2="202.40" stroke="#1a1a1a" stroke-width="1.4"/>
<circle cx="218.00" cy="196.90" r="1.1" fill="#222"/>
<circle cx="221.60" cy="196.90" r="1.1" fill="#222"/>
<line x1="210.20" y1="225.20" x2="210.20" y2="227.70" stroke="#000" stroke-width="0.9"/>
<text x="210.20" y="238.00" font-size="6.70" text-anchor="middle" font-weight="normal" fill="#111" transform="translate(210.20 238.00) scale(0.93 1) translate(-210.20 -238.00)" stroke="#111" stroke-width="0.1">HNF4&#945;</text>
<rect x="75.40" y="152.60" width="12.80" height="4.70" fill="#b20839"/>
<text x="91.60" y="157.60" font-size="7.00" text-anchor="start" font-weight="normal" fill="#111" transform="translate(91.60 157.60) scale(0.93 1) translate(-91.60 -157.60)" stroke="#111" stroke-width="0.1">Cont.</text>
<rect x="116.10" y="152.60" width="12.80" height="4.70" fill="#2b4886"/>
<text x="132.30" y="157.60" font-size="7.00" text-anchor="start" font-weight="normal" fill="#111" transform="translate(132.30 157.60) scale(0.93 1) translate(-132.30 -157.60)" stroke="#111" stroke-width="0.1">Apo-Tf</text>
<rect x="160.70" y="152.60" width="12.80" height="4.70" fill="#69ab41"/>
<text x="176.90" y="157.60" font-size="7.00" text-anchor="start" font-weight="normal" fill="#111" transform="translate(176.90 157.60) scale(0.93 1) translate(-176.90 -157.60)" stroke="#111" stroke-width="0.1">Holo-Tf</text>
<text x="273.90" y="151.10" font-size="8.50" text-anchor="middle" font-weight="bold" fill="#111">HL-7702</text>
<line x1="254.20" y1="155.50" x2="254.20" y2="226.20" stroke="#000" stroke-width="1.15"/>
<line x1="251.20" y1="225.70" x2="254.20" y2="225.70" stroke="#000" stroke-width="1.0"/>
<text x="248.80" y="228.50" font-size="6.40" text-anchor="end" font-weight="normal" fill="#111" stroke="#111" stroke-width="0.1">0</text>
<line x1="251.20" y1="203.30" x2="254.20" y2="203.30" stroke="#000" stroke-width="1.0"/>
<text x="248.80" y="206.10" font-size="6.40" text-anchor="end" font-weight="normal" fill="#111" stroke="#111" stroke-width="0.1">0.5</text>
<line x1="251.20" y1="180.90" x2="254.20" y2="180.90" stroke="#000" stroke-width="1.0"/>
<text x="248.80" y="183.70" font-size="6.40" text-anchor="end" font-weight="normal" fill="#111" stroke="#111" stroke-width="0.1">1.0</text>
<line x1="251.20" y1="158.50" x2="254.20" y2="158.50" stroke="#000" stroke-width="1.0"/>
<text x="248.80" y="161.30" font-size="6.40" text-anchor="end" font-weight="normal" fill="#111" stroke="#111" stroke-width="0.1">1.5</text>
<line x1="253.70" y1="225.90" x2="293.30" y2="225.90" stroke="#000" stroke-width="1.1"/>
<rect x="258.90" y="180.90" width="10.70" height="44.80" fill="#b20839"/>
<line x1="264.25" y1="178.21" x2="264.25" y2="181.40" stroke="#1a1a1a" stroke-width="1.0"/>
<line x1="261.00" y1="178.41" x2="267.50" y2="178.41" stroke="#1a1a1a" stroke-width="1.4"/>
<rect x="269.60" y="174.18" width="10.70" height="51.52" fill="#2b4886"/>
<line x1="274.95" y1="173.73" x2="274.95" y2="174.68" stroke="#1a1a1a" stroke-width="1.0"/>
<line x1="271.70" y1="173.93" x2="278.20" y2="173.93" stroke="#1a1a1a" stroke-width="1.4"/>
<rect x="280.30" y="196.13" width="10.70" height="29.57" fill="#69ab41"/>
<line x1="285.65" y1="191.20" x2="285.65" y2="196.63" stroke="#1a1a1a" stroke-width="1.0"/>
<line x1="282.40" y1="191.40" x2="288.90" y2="191.40" stroke="#1a1a1a" stroke-width="1.4"/>
<circle cx="285.65" cy="183.70" r="1.1" fill="#222"/>
<line x1="274.70" y1="225.70" x2="274.70" y2="228.20" stroke="#000" stroke-width="0.9"/>
<text x="274.70" y="238.20" font-size="6.49" text-anchor="middle" font-weight="normal" fill="#111" transform="translate(274.70 238.20) scale(0.93 1) translate(-274.70 -238.20)" stroke="#111" stroke-width="0.1">HNF4&#945;</text>
<text x="313.00" y="143.80" font-size="11.70" text-anchor="start" font-weight="bold" fill="#111">D</text>
<text x="361.80" y="157.30" font-size="6.80" text-anchor="middle" font-weight="normal" fill="#111" transform="translate(361.80 157.30) scale(0.93 1) translate(-361.80 -157.30)" stroke="#111" stroke-width="0.1">Apo-Tf</text>
<text x="392.80" y="157.30" font-size="6.80" text-anchor="middle" font-weight="normal" fill="#111" transform="translate(392.80 157.30) scale(0.93 1) translate(-392.80 -157.30)" stroke="#111" stroke-width="0.1">Holo-Tf</text>
<clipPath id="c7"><rect x="348.50" y="160.30" width="62.10" height="19.10"/></clipPath>
<g clip-path="url(#c7)"><rect x="348.50" y="160.30" width="62.10" height="19.10" fill="#f2f2f2"/>
<g filter="url(#bl1_2)">
<rect x="348.50" y="167.35" width="62.10" height="5" fill="#000" fill-opacity="0.05"/>
<rect x="351.20" y="165.15" width="25.60" height="10.50" rx="5.25" ry="5.25" fill="#000" fill-opacity="0.5"/>
<rect x="353.00" y="167.25" width="22.00" height="5.50" rx="2.75" ry="2.75" fill="#000" fill-opacity="0.45"/>
<rect x="356.00" y="172.25" width="17.00" height="2.50" rx="1.25" ry="1.25" fill="#000" fill-opacity="0.2"/>
<rect x="380.80" y="166.35" width="27.00" height="8.50" rx="4.25" ry="4.25" fill="#000" fill-opacity="0.4"/>
<rect x="383.00" y="167.40" width="14.00" height="4.00" rx="2.00" ry="2.00" fill="#000" fill-opacity="0.3"/>
</g></g>
<rect x="349.20" y="161.00" width="60.70" height="17.70" fill="none" stroke="#000" stroke-width="1.4"/>
<text x="345.60" y="172.15" font-size="6.80" text-anchor="end" font-weight="normal" fill="#111" transform="translate(345.60 172.15) scale(0.93 1) translate(-345.60 -172.15)" stroke="#111" stroke-width="0.1">HNF4&#945;</text>
<clipPath id="c8"><rect x="348.50" y="185.00" width="62.10" height="18.80"/></clipPath>
<g clip-path="url(#c8)"><rect x="348.50" y="185.00" width="62.10" height="18.80" fill="#f2f2f2"/>
<g filter="url(#bl1_2)">
<rect x="348.50" y="191.90" width="62.10" height="5" fill="#000" fill-opacity="0.03"/>
<rect x="354.00" y="192.50" width="22.00" height="3.60" rx="1.80" ry="1.80" fill="#000" fill-opacity="0.45"/>
<rect x="362.00" y="192.90" width="13.00" height="2.40" rx="1.20" ry="1.20" fill="#000" fill-opacity="0.3"/>
<rect x="382.00" y="191.90" width="24.50" height="5.60" rx="2.80" ry="2.80" fill="#000" fill-opacity="0.58"/>
<rect x="386.00" y="193.10" width="17.00" height="3.00" rx="1.50" ry="1.50" fill="#000" fill-opacity="0.4"/>
</g></g>
<rect x="349.20" y="185.70" width="60.70" height="17.40" fill="none" stroke="#000" stroke-width="1.4"/>
<text x="345.60" y="196.70" font-size="6.80" text-anchor="end" font-weight="normal" fill="#111" transform="translate(345.60 196.70) scale(0.93 1) translate(-345.60 -196.70)" stroke="#111" stroke-width="0.1">CCL2</text>
<clipPath id="c9"><rect x="348.50" y="209.50" width="62.10" height="17.70"/></clipPath>
<g clip-path="url(#c9)"><rect x="348.50" y="209.50" width="62.10" height="17.70" fill="#f2f2f2"/>
<g filter="url(#bl0_6)">
<rect x="350.00" y="215.70" width="31.00" height="5.60" rx="2.80" ry="2.80" fill="#000" fill-opacity="1.0"/>
<rect x="380.00" y="215.60" width="29.50" height="5.40" rx="2.70" ry="2.70" fill="#000" fill-opacity="1.0"/>
</g></g>
<rect x="349.20" y="210.20" width="60.70" height="16.30" fill="none" stroke="#000" stroke-width="1.4"/>
<text x="345.60" y="220.65" font-size="6.80" text-anchor="end" font-weight="normal" fill="#111" transform="translate(345.60 220.65) scale(0.93 1) translate(-345.60 -220.65)" stroke="#111" stroke-width="0.1">&#946;-actin</text>
<text x="361.80" y="254.60" font-size="6.80" text-anchor="middle" font-weight="normal" fill="#111" transform="translate(361.80 254.60) scale(0.93 1) translate(-361.80 -254.60)" stroke="#111" stroke-width="0.1">Apo-Tf</text>
<text x="392.80" y="254.60" font-size="6.80" text-anchor="middle" font-weight="normal" fill="#111" transform="translate(392.80 254.60) scale(0.93 1) translate(-392.80 -254.60)" stroke="#111" stroke-width="0.1">Holo-Tf</text>
<clipPath id="c10"><rect x="348.50" y="257.00" width="62.10" height="18.30"/></clipPath>
<g clip-path="url(#c10)"><rect x="348.50" y="257.00" width="62.10" height="18.30" fill="#f2f2f2"/>
<g filter="url(#bl0_8)">
<rect x="351.00" y="263.50" width="25.50" height="5.00" rx="2.50" ry="2.50" fill="#000" fill-opacity="0.95"/>
<rect x="381.50" y="264.00" width="23.00" height="4.40" rx="2.20" ry="2.20" fill="#000" fill-opacity="0.85"/>
<rect x="352.00" y="269.00" width="24.00" height="3.20" rx="1.60" ry="1.60" fill="#000" fill-opacity="0.5"/>
<rect x="382.00" y="269.30" width="23.00" height="3.00" rx="1.50" ry="1.50" fill="#000" fill-opacity="0.42"/>
<rect x="348.00" y="257.00" width="63.00" height="6.00" fill="#000" fill-opacity="0.08"/>
</g></g>
<rect x="349.20" y="257.70" width="60.70" height="16.90" fill="none" stroke="#000" stroke-width="1.4"/>
<text x="345.60" y="268.45" font-size="6.80" text-anchor="end" font-weight="normal" fill="#111" transform="translate(345.60 268.45) scale(0.93 1) translate(-345.60 -268.45)" stroke="#111" stroke-width="0.1">HNF4&#945;</text>
<clipPath id="c11"><rect x="348.50" y="280.90" width="62.10" height="18.50"/></clipPath>
<g clip-path="url(#c11)"><rect x="348.50" y="280.90" width="62.10" height="18.50" fill="#f2f2f2"/>
<g filter="url(#bl1_6)">
<ellipse cx="365.00" cy="291.00" rx="14.00" ry="6.00" fill="#000" fill-opacity="0.14"/>
<ellipse cx="395.00" cy="291.50" rx="14.00" ry="7.00" fill="#000" fill-opacity="0.45"/>
<ellipse cx="399.00" cy="292.80" rx="8.00" ry="4.50" fill="#000" fill-opacity="0.3"/>
<rect x="348.00" y="281.00" width="63.00" height="6.00" fill="#000" fill-opacity="0.05"/>
</g></g>
<rect x="349.20" y="281.60" width="60.70" height="17.10" fill="none" stroke="#000" stroke-width="1.4"/>
<text x="345.60" y="292.45" font-size="6.80" text-anchor="end" font-weight="normal" fill="#111" transform="translate(345.60 292.45) scale(0.93 1) translate(-345.60 -292.45)" stroke="#111" stroke-width="0.1">CCL2</text>
<clipPath id="c12"><rect x="348.50" y="306.10" width="62.10" height="17.60"/></clipPath>
<g clip-path="url(#c12)"><rect x="348.50" y="306.10" width="62.10" height="17.60" fill="#f2f2f2"/>
<g filter="url(#bl0_6)">
<path d="M351,315.4 Q363,317.8 376,314.9 Q390,317.4 407.5,313.6" fill="none" stroke="#000" stroke-width="2.3" stroke-opacity="1.0" stroke-linecap="round"/>
<rect x="348.00" y="317.00" width="63.00" height="7.00" fill="#000" fill-opacity="0.08"/>
</g></g>
<rect x="349.20" y="306.80" width="60.70" height="16.20" fill="none" stroke="#000" stroke-width="1.4"/>
<text x="345.60" y="317.20" font-size="6.80" text-anchor="end" font-weight="normal" fill="#111" transform="translate(345.60 317.20) scale(0.93 1) translate(-345.60 -317.20)" stroke="#111" stroke-width="0.1">&#946;-actin</text>
<text x="423.90" y="189.15" font-size="8.60" text-anchor="middle" font-weight="normal" fill="#111" transform="rotate(-90 423.90 189.15)" textLength="77.0" lengthAdjust="spacingAndGlyphs" stroke="#111" stroke-width="0.1">Protein fold, vs Apo-Tf</text>
<text x="423.90" y="288.85" font-size="8.60" text-anchor="middle" font-weight="normal" fill="#111" transform="rotate(-90 423.90 288.85)" textLength="76.5" lengthAdjust="spacingAndGlyphs" stroke="#111" stroke-width="0.1">Protein fold, vs Apo-Tf</text>
<line x1="444.10" y1="152.00" x2="444.10" y2="225.90" stroke="#000" stroke-width="1.15"/>
<line x1="441.10" y1="225.40" x2="444.10" y2="225.40" stroke="#000" stroke-width="1.0"/>
<text x="438.70" y="228.20" font-size="6.40" text-anchor="end" font-weight="normal" fill="#111" stroke="#111" stroke-width="0.1">0</text>
<line x1="441.10" y1="207.80" x2="444.10" y2="207.80" stroke="#000" stroke-width="1.0"/>
<text x="438.70" y="210.60" font-size="6.40" text-anchor="end" font-weight="normal" fill="#111" stroke="#111" stroke-width="0.1">0.5</text>
<line x1="441.10" y1="190.20" x2="444.10" y2="190.20" stroke="#000" stroke-width="1.0"/>
<text x="438.70" y="193.00" font-size="6.40" text-anchor="end" font-weight="normal" fill="#111" stroke="#111" stroke-width="0.1">1.0</text>
<line x1="441.10" y1="172.60" x2="444.10" y2="172.60" stroke="#000" stroke-width="1.0"/>
<text x="438.70" y="175.40" font-size="6.40" text-anchor="end" font-weight="normal" fill="#111" stroke="#111" stroke-width="0.1">1.5</text>
<line x1="441.10" y1="155.00" x2="444.10" y2="155.00" stroke="#000" stroke-width="1.0"/>
<text x="438.70" y="157.80" font-size="6.40" text-anchor="end" font-weight="normal" fill="#111" stroke="#111" stroke-width="0.1">2.0</text>
<line x1="443.60" y1="225.60" x2="508.80" y2="225.60" stroke="#000" stroke-width="1.1"/>
<rect x="450.30" y="190.20" width="10.90" height="35.20" fill="#2b4886"/>
<line x1="455.75" y1="188.09" x2="455.75" y2="190.70" stroke="#1a1a1a" stroke-width="1.0"/>
<line x1="453.00" y1="188.29" x2="458.50" y2="188.29" stroke="#1a1a1a" stroke-width="1.4"/>
<rect x="461.20" y="207.80" width="10.90" height="17.60" fill="#69ab41"/>
<line x1="466.65" y1="207.10" x2="466.65" y2="208.30" stroke="#1a1a1a" stroke-width="1.0"/>
<line x1="463.90" y1="207.30" x2="469.40" y2="207.30" stroke="#1a1a1a" stroke-width="1.4"/>
<circle cx="464.85" cy="201.80" r="1.1" fill="#222"/>
<circle cx="468.45" cy="201.80" r="1.1" fill="#222"/>
<line x1="461.20" y1="225.40" x2="461.20" y2="227.90" stroke="#000" stroke-width="0.9"/>
<text x="461.20" y="237.80" font-size="6.70" text-anchor="middle" font-weight="normal" fill="#111" transform="translate(461.20 237.80) scale(0.93 1) translate(-461.20 -237.80)" stroke="#111" stroke-width="0.1">HNF4&#945;</text>
<rect x="482.40" y="190.20" width="10.90" height="35.20" fill="#2b4886"/>
<line x1="487.85" y1="186.68" x2="487.85" y2="190.70" stroke="#1a1a1a" stroke-width="1.0"/>
<line x1="485.10" y1="186.88" x2="490.60" y2="186.88" stroke="#1a1a1a" stroke-width="1.4"/>
<rect x="493.30" y="168.38" width="10.90" height="57.02" fill="#69ab41"/>
<line x1="498.75" y1="161.34" x2="498.75" y2="168.88" stroke="#1a1a1a" stroke-width="1.0"/>
<line x1="496.00" y1="161.54" x2="501.50" y2="161.54" stroke="#1a1a1a" stroke-width="1.4"/>
<circle cx="496.95" cy="156.04" r="1.1" fill="#222"/>
<circle cx="500.55" cy="156.04" r="1.1" fill="#222"/>
<line x1="493.30" y1="225.40" x2="493.30" y2="227.90" stroke="#000" stroke-width="0.9"/>
<text x="493.30" y="237.80" font-size="6.70" text-anchor="middle" font-weight="normal" fill="#111" transform="translate(493.30 237.80) scale(0.93 1) translate(-493.30 -237.80)" stroke="#111" stroke-width="0.1">CCL2</text>
<rect x="448.20" y="157.30" width="7.60" height="4.50" fill="#2b4886"/>
<text x="458.60" y="162.00" font-size="7.00" text-anchor="start" font-weight="normal" fill="#111" transform="translate(458.60 162.00) scale(0.93 1) translate(-458.60 -162.00)" stroke="#111" stroke-width="0.1">Apo-Tf</text>
<rect x="448.20" y="167.60" width="7.60" height="4.50" fill="#69ab41"/>
<text x="458.60" y="172.30" font-size="7.00" text-anchor="start" font-weight="normal" fill="#111" transform="translate(458.60 172.30) scale(0.93 1) translate(-458.60 -172.30)" stroke="#111" stroke-width="0.1">Holo-Tf</text>
<line x1="444.30" y1="252.55" x2="444.30" y2="325.30" stroke="#000" stroke-width="1.15"/>
<line x1="441.30" y1="324.80" x2="444.30" y2="324.80" stroke="#000" stroke-width="1.0"/>
<text x="438.90" y="327.60" font-size="6.40" text-anchor="end" font-weight="normal" fill="#111" stroke="#111" stroke-width="0.1">0</text>
<line x1="441.30" y1="310.95" x2="444.30" y2="310.95" stroke="#000" stroke-width="1.0"/>
<text x="438.90" y="313.75" font-size="6.40" text-anchor="end" font-weight="normal" fill="#111" stroke="#111" stroke-width="0.1">0.5</text>
<line x1="441.30" y1="297.10" x2="444.30" y2="297.10" stroke="#000" stroke-width="1.0"/>
<text x="438.90" y="299.90" font-size="6.40" text-anchor="end" font-weight="normal" fill="#111" stroke="#111" stroke-width="0.1">1.0</text>
<line x1="441.30" y1="283.25" x2="444.30" y2="283.25" stroke="#000" stroke-width="1.0"/>
<text x="438.90" y="286.05" font-size="6.40" text-anchor="end" font-weight="normal" fill="#111" stroke="#111" stroke-width="0.1">1.5</text>
<line x1="441.30" y1="269.40" x2="444.30" y2="269.40" stroke="#000" stroke-width="1.0"/>
<text x="438.90" y="272.20" font-size="6.40" text-anchor="end" font-weight="normal" fill="#111" stroke="#111" stroke-width="0.1">2.0</text>
<line x1="441.30" y1="255.55" x2="444.30" y2="255.55" stroke="#000" stroke-width="1.0"/>
<text x="438.90" y="258.35" font-size="6.40" text-anchor="end" font-weight="normal" fill="#111" stroke="#111" stroke-width="0.1">2.5</text>
<line x1="443.80" y1="325.00" x2="508.80" y2="325.00" stroke="#000" stroke-width="1.1"/>
<rect x="450.30" y="297.10" width="10.90" height="27.70" fill="#2b4886"/>
<line x1="455.75" y1="294.33" x2="455.75" y2="297.60" stroke="#1a1a1a" stroke-width="1.0"/>
<line x1="453.00" y1="294.53" x2="458.50" y2="294.53" stroke="#1a1a1a" stroke-width="1.4"/>
<rect x="461.20" y="311.50" width="10.90" height="13.30" fill="#69ab41"/>
<line x1="466.65" y1="307.90" x2="466.65" y2="312.00" stroke="#1a1a1a" stroke-width="1.0"/>
<line x1="463.90" y1="308.10" x2="469.40" y2="308.10" stroke="#1a1a1a" stroke-width="1.4"/>
<circle cx="464.85" cy="302.60" r="1.1" fill="#222"/>
<circle cx="468.45" cy="302.60" r="1.1" fill="#222"/>
<line x1="461.20" y1="324.80" x2="461.20" y2="327.30" stroke="#000" stroke-width="0.9"/>
<text x="461.20" y="336.90" font-size="6.70" text-anchor="middle" font-weight="normal" fill="#111" transform="translate(461.20 336.90) scale(0.93 1) translate(-461.20 -336.90)" stroke="#111" stroke-width="0.1">HNF4&#945;</text>
<rect x="482.40" y="297.10" width="10.90" height="27.70" fill="#2b4886"/>
<line x1="487.85" y1="295.44" x2="487.85" y2="297.60" stroke="#1a1a1a" stroke-width="1.0"/>
<line x1="485.10" y1="295.64" x2="490.60" y2="295.64" stroke="#1a1a1a" stroke-width="1.4"/>
<rect x="493.30" y="262.48" width="10.90" height="62.32" fill="#69ab41"/>
<line x1="498.75" y1="260.26" x2="498.75" y2="262.98" stroke="#1a1a1a" stroke-width="1.0"/>
<line x1="496.00" y1="260.46" x2="501.50" y2="260.46" stroke="#1a1a1a" stroke-width="1.4"/>
<circle cx="496.95" cy="254.96" r="1.1" fill="#222"/>
<circle cx="500.55" cy="254.96" r="1.1" fill="#222"/>
<line x1="493.30" y1="324.80" x2="493.30" y2="327.30" stroke="#000" stroke-width="0.9"/>
<text x="493.30" y="336.90" font-size="6.70" text-anchor="middle" font-weight="normal" fill="#111" transform="translate(493.30 336.90) scale(0.93 1) translate(-493.30 -336.90)" stroke="#111" stroke-width="0.1">CCL2</text>
<rect x="448.10" y="256.70" width="7.30" height="4.30" fill="#2b4886"/>
<text x="458.50" y="261.20" font-size="7.00" text-anchor="start" font-weight="normal" fill="#111" transform="translate(458.50 261.20) scale(0.93 1) translate(-458.50 -261.20)" stroke="#111" stroke-width="0.1">Apo-Tf</text>
<rect x="448.10" y="266.90" width="7.30" height="4.50" fill="#69ab41"/>
<text x="458.50" y="271.50" font-size="7.00" text-anchor="start" font-weight="normal" fill="#111" transform="translate(458.50 271.50) scale(0.93 1) translate(-458.50 -271.50)" stroke="#111" stroke-width="0.1">Holo-Tf</text>
<text x="7.50" y="258.80" font-size="11.70" text-anchor="start" font-weight="bold" fill="#111">E</text>
<text x="23.00" y="303.35" font-size="9.20" text-anchor="middle" font-weight="normal" fill="#111" transform="rotate(-90 23.00 303.35)" textLength="58.3" lengthAdjust="spacingAndGlyphs" stroke="#111" stroke-width="0.1">DNA enrichment,</text>
<text x="32.30" y="303.25" font-size="8.80" text-anchor="middle" font-weight="normal" fill="#111" transform="rotate(-90 32.30 303.25)" textLength="47" lengthAdjust="spacingAndGlyphs" stroke="#111" stroke-width="0.1">vs mouse-IgG</text>
<line x1="51.30" y1="268.58" x2="51.30" y2="337.80" stroke="#000" stroke-width="1.15"/>
<line x1="48.30" y1="337.30" x2="51.30" y2="337.30" stroke="#000" stroke-width="1.0"/>
<text x="45.90" y="340.10" font-size="6.40" text-anchor="end" font-weight="normal" fill="#111" stroke="#111" stroke-width="0.1">0</text>
<line x1="48.30" y1="320.87" x2="51.30" y2="320.87" stroke="#000" stroke-width="1.0"/>
<text x="45.90" y="323.67" font-size="6.40" text-anchor="end" font-weight="normal" fill="#111" stroke="#111" stroke-width="0.1">10</text>
<line x1="48.30" y1="304.44" x2="51.30" y2="304.44" stroke="#000" stroke-width="1.0"/>
<text x="45.90" y="307.24" font-size="6.40" text-anchor="end" font-weight="normal" fill="#111" stroke="#111" stroke-width="0.1">20</text>
<line x1="48.30" y1="288.01" x2="51.30" y2="288.01" stroke="#000" stroke-width="1.0"/>
<text x="45.90" y="290.81" font-size="6.40" text-anchor="end" font-weight="normal" fill="#111" stroke="#111" stroke-width="0.1">30</text>
<line x1="48.30" y1="271.58" x2="51.30" y2="271.58" stroke="#000" stroke-width="1.0"/>
<text x="45.90" y="274.38" font-size="6.40" text-anchor="end" font-weight="normal" fill="#111" stroke="#111" stroke-width="0.1">40</text>
<line x1="50.80" y1="337.50" x2="141.60" y2="337.50" stroke="#000" stroke-width="1.1"/>
<rect x="59.20" y="336.31" width="14.90" height="0.99" fill="#b20839"/>
<rect x="74.10" y="289.65" width="14.90" height="47.65" fill="#2b4886"/>
<line x1="81.55" y1="286.70" x2="81.55" y2="290.15" stroke="#1a1a1a" stroke-width="1.0"/>
<line x1="78.05" y1="286.90" x2="85.05" y2="286.90" stroke="#1a1a1a" stroke-width="1.4"/>
<line x1="74.10" y1="337.30" x2="74.10" y2="339.80" stroke="#000" stroke-width="0.9"/>
<text x="74.10" y="349.60" font-size="6.70" text-anchor="middle" font-weight="normal" fill="#111" transform="translate(74.10 349.60) scale(0.93 1) translate(-74.10 -349.60)" stroke="#111" stroke-width="0.1">Apo-Tf</text>
<rect x="104.30" y="335.99" width="14.90" height="1.31" fill="#b20839"/>
<rect x="119.20" y="332.37" width="14.90" height="4.93" fill="#2b4886"/>
<line x1="126.65" y1="331.88" x2="126.65" y2="332.87" stroke="#1a1a1a" stroke-width="1.0"/>
<line x1="123.15" y1="332.08" x2="130.15" y2="332.08" stroke="#1a1a1a" stroke-width="1.4"/>
<circle cx="124.85" cy="321.38" r="1.1" fill="#222"/>
<circle cx="128.45" cy="321.38" r="1.1" fill="#222"/>
<line x1="119.20" y1="337.30" x2="119.20" y2="339.80" stroke="#000" stroke-width="0.9"/>
<text x="119.20" y="349.60" font-size="6.70" text-anchor="middle" font-weight="normal" fill="#111" transform="translate(119.20 349.60) scale(0.93 1) translate(-119.20 -349.60)" stroke="#111" stroke-width="0.1">Holo-Tf</text>
<rect x="94.40" y="287.50" width="8.00" height="4.40" fill="#b20839"/>
<text x="105.10" y="291.70" font-size="7.00" text-anchor="start" font-weight="normal" fill="#111" transform="translate(105.10 291.70) scale(0.93 1) translate(-105.10 -291.70)" stroke="#111" stroke-width="0.1">Mouse-IgG</text>
<rect x="94.40" y="297.90" width="8.00" height="4.20" fill="#2b4886"/>
<text x="105.10" y="302.20" font-size="7.00" text-anchor="start" font-weight="normal" fill="#111" transform="translate(105.10 302.20) scale(0.93 1) translate(-105.10 -302.20)" stroke="#111" stroke-width="0.1">Ab-HNF4&#945;</text>
<text x="147.80" y="258.60" font-size="11.70" text-anchor="start" font-weight="bold" fill="#111">F</text>
<text x="165.80" y="304.15" font-size="8.90" text-anchor="middle" font-weight="normal" fill="#111" transform="rotate(-90 165.80 304.15)" textLength="68.1" lengthAdjust="spacingAndGlyphs" stroke="#111" stroke-width="0.1">RNA fold, vs Apo-Tf</text>
<line x1="180.80" y1="270.30" x2="180.80" y2="337.80" stroke="#000" stroke-width="1.15"/>
<line x1="177.80" y1="337.30" x2="180.80" y2="337.30" stroke="#000" stroke-width="1.0"/>
<text x="175.40" y="340.10" font-size="6.40" text-anchor="end" font-weight="normal" fill="#111" stroke="#111" stroke-width="0.1">0</text>
<line x1="177.80" y1="321.30" x2="180.80" y2="321.30" stroke="#000" stroke-width="1.0"/>
<text x="175.40" y="324.10" font-size="6.40" text-anchor="end" font-weight="normal" fill="#111" stroke="#111" stroke-width="0.1">1</text>
<line x1="177.80" y1="305.30" x2="180.80" y2="305.30" stroke="#000" stroke-width="1.0"/>
<text x="175.40" y="308.10" font-size="6.40" text-anchor="end" font-weight="normal" fill="#111" stroke="#111" stroke-width="0.1">2</text>
<line x1="177.80" y1="289.30" x2="180.80" y2="289.30" stroke="#000" stroke-width="1.0"/>
<text x="175.40" y="292.10" font-size="6.40" text-anchor="end" font-weight="normal" fill="#111" stroke="#111" stroke-width="0.1">3</text>
<line x1="177.80" y1="273.30" x2="180.80" y2="273.30" stroke="#000" stroke-width="1.0"/>
<text x="175.40" y="276.10" font-size="6.40" text-anchor="end" font-weight="normal" fill="#111" stroke="#111" stroke-width="0.1">4</text>
<line x1="180.30" y1="337.50" x2="303.00" y2="337.50" stroke="#000" stroke-width="1.1"/>
<rect x="185.00" y="321.30" width="8.10" height="16.00" fill="#2b4886"/>
<line x1="189.05" y1="320.98" x2="189.05" y2="321.80" stroke="#1a1a1a" stroke-width="1.0"/>
<line x1="186.55" y1="321.18" x2="191.55" y2="321.18" stroke="#1a1a1a" stroke-width="1.4"/>
<rect x="193.10" y="331.38" width="8.10" height="5.92" fill="#69ab41"/>
<line x1="197.15" y1="330.90" x2="197.15" y2="331.88" stroke="#1a1a1a" stroke-width="1.0"/>
<line x1="194.65" y1="331.10" x2="199.65" y2="331.10" stroke="#1a1a1a" stroke-width="1.4"/>
<circle cx="195.35" cy="325.60" r="1.1" fill="#222"/>
<circle cx="198.95" cy="325.60" r="1.1" fill="#222"/>
<rect x="201.20" y="278.10" width="8.10" height="59.20" fill="#58226e"/>
<line x1="205.25" y1="276.02" x2="205.25" y2="278.60" stroke="#1a1a1a" stroke-width="1.0"/>
<line x1="202.75" y1="276.22" x2="207.75" y2="276.22" stroke="#1a1a1a" stroke-width="1.4"/>
<ellipse cx="203.65" cy="270.42" rx="0.95" ry="1.75" transform="rotate(18 203.65 270.42)" fill="#2a2a2a"/>
<ellipse cx="207.25" cy="270.42" rx="0.95" ry="1.75" transform="rotate(18 207.25 270.42)" fill="#2a2a2a"/>
<circle cx="203.45" cy="265.12" r="1.1" fill="#222"/>
<circle cx="207.05" cy="265.12" r="1.1" fill="#222"/>
<rect x="209.30" y="288.18" width="8.10" height="49.12" fill="#e6961a"/>
<line x1="213.35" y1="283.70" x2="213.35" y2="288.68" stroke="#1a1a1a" stroke-width="1.0"/>
<line x1="210.85" y1="283.90" x2="215.85" y2="283.90" stroke="#1a1a1a" stroke-width="1.4"/>
<ellipse cx="211.75" cy="278.10" rx="0.95" ry="1.75" transform="rotate(18 211.75 278.10)" fill="#2a2a2a"/>
<ellipse cx="215.35" cy="278.10" rx="0.95" ry="1.75" transform="rotate(18 215.35 278.10)" fill="#2a2a2a"/>
<circle cx="211.55" cy="272.80" r="1.1" fill="#222"/>
<circle cx="215.15" cy="272.80" r="1.1" fill="#222"/>
<line x1="201.20" y1="337.30" x2="201.20" y2="339.80" stroke="#000" stroke-width="0.9"/>
<text x="201.20" y="349.60" font-size="6.70" text-anchor="middle" font-weight="normal" fill="#111" transform="translate(201.20 349.60) scale(0.93 1) translate(-201.20 -349.60)" stroke="#111" stroke-width="0.1">HNF4&#945;</text>
<rect x="226.05" y="321.30" width="8.10" height="16.00" fill="#2b4886"/>
<line x1="230.10" y1="320.98" x2="230.10" y2="321.80" stroke="#1a1a1a" stroke-width="1.0"/>
<line x1="227.60" y1="321.18" x2="232.60" y2="321.18" stroke="#1a1a1a" stroke-width="1.4"/>
<rect x="234.15" y="330.10" width="8.10" height="7.20" fill="#69ab41"/>
<line x1="238.20" y1="329.78" x2="238.20" y2="330.60" stroke="#1a1a1a" stroke-width="1.0"/>
<line x1="235.70" y1="329.98" x2="240.70" y2="329.98" stroke="#1a1a1a" stroke-width="1.4"/>
<circle cx="236.40" cy="324.48" r="1.1" fill="#222"/>
<circle cx="240.00" cy="324.48" r="1.1" fill="#222"/>
<rect x="242.25" y="289.30" width="8.10" height="48.00" fill="#58226e"/>
<line x1="246.30" y1="287.06" x2="246.30" y2="289.80" stroke="#1a1a1a" stroke-width="1.0"/>
<line x1="243.80" y1="287.26" x2="248.80" y2="287.26" stroke="#1a1a1a" stroke-width="1.4"/>
<ellipse cx="244.70" cy="281.46" rx="0.95" ry="1.75" transform="rotate(18 244.70 281.46)" fill="#2a2a2a"/>
<ellipse cx="248.30" cy="281.46" rx="0.95" ry="1.75" transform="rotate(18 248.30 281.46)" fill="#2a2a2a"/>
<circle cx="244.50" cy="276.16" r="1.1" fill="#222"/>
<circle cx="248.10" cy="276.16" r="1.1" fill="#222"/>
<rect x="250.35" y="300.82" width="8.10" height="36.48" fill="#e6961a"/>
<line x1="254.40" y1="296.50" x2="254.40" y2="301.32" stroke="#1a1a1a" stroke-width="1.0"/>
<line x1="251.90" y1="296.70" x2="256.90" y2="296.70" stroke="#1a1a1a" stroke-width="1.4"/>
<ellipse cx="252.80" cy="290.90" rx="0.95" ry="1.75" transform="rotate(18 252.80 290.90)" fill="#2a2a2a"/>
<ellipse cx="256.40" cy="290.90" rx="0.95" ry="1.75" transform="rotate(18 256.40 290.90)" fill="#2a2a2a"/>
<circle cx="252.60" cy="285.60" r="1.1" fill="#222"/>
<circle cx="256.20" cy="285.60" r="1.1" fill="#222"/>
<line x1="242.25" y1="337.30" x2="242.25" y2="339.80" stroke="#000" stroke-width="0.9"/>
<text x="242.25" y="349.60" font-size="6.70" text-anchor="middle" font-weight="normal" fill="#111" transform="translate(242.25 349.60) scale(0.93 1) translate(-242.25 -349.60)" stroke="#111" stroke-width="0.1">miR-122</text>
<rect x="267.10" y="321.30" width="8.10" height="16.00" fill="#2b4886"/>
<rect x="275.20" y="314.42" width="8.10" height="22.88" fill="#69ab41"/>
<line x1="279.25" y1="313.78" x2="279.25" y2="314.92" stroke="#1a1a1a" stroke-width="1.0"/>
<line x1="276.75" y1="313.98" x2="281.75" y2="313.98" stroke="#1a1a1a" stroke-width="1.4"/>
<circle cx="279.25" cy="310.48" r="1.1" fill="#222"/>
<rect x="283.30" y="331.38" width="8.10" height="5.92" fill="#58226e"/>
<line x1="287.35" y1="330.90" x2="287.35" y2="331.88" stroke="#1a1a1a" stroke-width="1.0"/>
<line x1="284.85" y1="331.10" x2="289.85" y2="331.10" stroke="#1a1a1a" stroke-width="1.4"/>
<ellipse cx="285.75" cy="325.30" rx="0.95" ry="1.75" transform="rotate(18 285.75 325.30)" fill="#2a2a2a"/>
<ellipse cx="289.35" cy="325.30" rx="0.95" ry="1.75" transform="rotate(18 289.35 325.30)" fill="#2a2a2a"/>
<circle cx="285.55" cy="320.00" r="1.1" fill="#222"/>
<circle cx="289.15" cy="320.00" r="1.1" fill="#222"/>
<rect x="291.40" y="324.34" width="8.10" height="12.96" fill="#e6961a"/>
<line x1="295.45" y1="323.86" x2="295.45" y2="324.84" stroke="#1a1a1a" stroke-width="1.0"/>
<line x1="292.95" y1="324.06" x2="297.95" y2="324.06" stroke="#1a1a1a" stroke-width="1.4"/>
<ellipse cx="293.85" cy="319.56" rx="0.95" ry="1.75" transform="rotate(18 293.85 319.56)" fill="#2a2a2a"/>
<ellipse cx="297.45" cy="319.56" rx="0.95" ry="1.75" transform="rotate(18 297.45 319.56)" fill="#2a2a2a"/>
<line x1="283.30" y1="337.30" x2="283.30" y2="339.80" stroke="#000" stroke-width="0.9"/>
<text x="283.30" y="349.60" font-size="6.70" text-anchor="middle" font-weight="normal" fill="#111" transform="translate(283.30 349.60) scale(0.93 1) translate(-283.30 -349.60)" stroke="#111" stroke-width="0.1">CCL2</text>
<rect x="266.40" y="262.50" width="8.70" height="4.20" fill="#2b4886"/>
<rect x="266.40" y="271.20" width="8.70" height="4.20" fill="#69ab41"/>
<rect x="266.40" y="279.70" width="8.70" height="4.20" fill="#58226e"/>
<rect x="266.40" y="294.80" width="8.70" height="4.20" fill="#e6961a"/>
<text x="278.10" y="267.00" font-size="7.00" text-anchor="start" font-weight="normal" fill="#111" transform="translate(278.10 267.00) scale(0.93 1) translate(-278.10 -267.00)" stroke="#111" stroke-width="0.1">Apo-Tf</text>
<text x="278.10" y="275.70" font-size="7.00" text-anchor="start" font-weight="normal" fill="#111" transform="translate(278.10 275.70) scale(0.93 1) translate(-278.10 -275.70)" stroke="#111" stroke-width="0.1">Holo-Tf</text>
<text x="278.10" y="284.10" font-size="7.00" text-anchor="start" font-weight="normal" fill="#111" transform="translate(278.10 284.10) scale(0.93 1) translate(-278.10 -284.10)" stroke="#111" stroke-width="0.1">oeHNF4&#945;</text>
<text x="279.00" y="292.10" font-size="7.00" text-anchor="start" font-weight="normal" fill="#111" transform="translate(279.00 292.10) scale(0.93 1) translate(-279.00 -292.10)" stroke="#111" stroke-width="0.1">+Apo-Tf</text>
<text x="278.10" y="299.20" font-size="7.00" text-anchor="start" font-weight="normal" fill="#111" transform="translate(278.10 299.20) scale(0.93 1) translate(-278.10 -299.20)" stroke="#111" stroke-width="0.1">oeHNF4&#945;</text>
<text x="279.00" y="307.20" font-size="7.00" text-anchor="start" font-weight="normal" fill="#111" transform="translate(279.00 307.20) scale(0.93 1) translate(-279.00 -307.20)" stroke="#111" stroke-width="0.1">+Holo-Tf</text>
<rect x="0" y="0" width="520" height="1.2" fill="#000"/><rect x="0" y="0" width="1.2" height="358" fill="#000"/><rect x="518.7" y="0" width="1.3" height="358" fill="#000"/><rect x="0" y="356" width="520" height="2" fill="#000"/>
</svg>
</body></html>
